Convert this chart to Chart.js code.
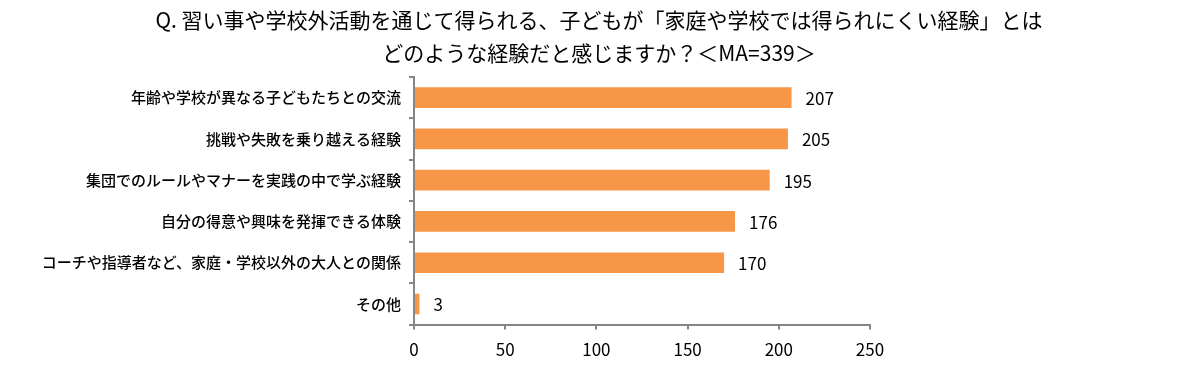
<!DOCTYPE html>
<html lang="ja">
<head>
  <meta charset="UTF-8" />
  <title>習い事や学校外活動の経験</title>
  <script src="https://cdn.jsdelivr.net/npm/chart.js"></script>
  <style>
    html, body {
      margin: 0;
      padding: 0;
      background: #ffffff;
    }
    #wrap {
      width: 1182px;
      height: 372px;
    }
  </style>
</head>
<body>
  <div id="wrap"><canvas id="chart"></canvas></div>

  <script>
    const titleLines = [
      'Q. 習い事や学校外活動を通じて得られる、子どもが「家庭や学校では得られにくい経験」とは',
      'どのような経験だと感じますか？＜MA=339＞'
    ];
    const categories = [
      '年齢や学校が異なる子どもたちとの交流',
      '挑戦や失敗を乗り越える経験',
      '集団でのルールやマナーを実践の中で学ぶ経験',
      '自分の得意や興味を発揮できる体験',
      'コーチや指導者など、家庭・学校以外の大人との関係',
      'その他'
    ];
    const counts = [207, 205, 195, 176, 170, 3];
    const xTicks = [0, 50, 100, 150, 200, 250];

    const fontFamily = '"Noto Sans CJK JP", "Noto Sans", sans-serif';

    // title centred on the whole canvas, not on the plot area
    const pageTitle = {
      id: 'pageTitle',
      afterDraw(chart) {
        const ctx = chart.ctx;
        ctx.save();
        ctx.fillStyle = '#000';
        ctx.font = '21px ' + fontFamily;
        ctx.textAlign = 'center';
        ctx.textBaseline = 'middle';
        const cx = chart.width / 2 + 8;
        ctx.fillText(titleLines[0], cx, 20);
        ctx.fillText(titleLines[1], cx, 53);
        ctx.restore();
      }
    };

    // value labels to the right of each bar
    const valueLabels = {
      id: 'valueLabels',
      afterDatasetsDraw(chart) {
        const ctx = chart.ctx;
        const meta = chart.getDatasetMeta(0);
        ctx.save();
        ctx.fillStyle = '#000';
        ctx.font = '17px ' + fontFamily;
        ctx.textAlign = 'left';
        ctx.textBaseline = 'middle';
        meta.data.forEach((bar, i) => {
          ctx.fillText(String(counts[i]), bar.x + 14, bar.y + 1);
        });
        ctx.restore();
      }
    };

    new Chart(document.getElementById('chart'), {
      type: 'bar',
      data: {
        labels: categories,
        datasets: [{
          data: counts,
          backgroundColor: '#F79646',
          borderWidth: 0,
          barPercentage: 0.5,
          categoryPercentage: 1.0
        }]
      },
      plugins: [valueLabels, pageTitle],
      options: {
        indexAxis: 'y',
        responsive: true,
        maintainAspectRatio: false,
        animation: false,
        layout: { padding: { left: 0, right: 312, top: 77, bottom: 2 } },
        plugins: {
          legend: { display: false },
          tooltip: { enabled: false },
          title: { display: false }
        },
        scales: {
          x: {
            min: 0,
            max: 250,
            afterBuildTicks(axis) {
              axis.ticks = xTicks.map(v => ({ value: v }));
            },
            border: { color: '#868686', width: 2 },
            grid: { drawOnChartArea: false, color: '#868686', tickLength: 5, lineWidth: 2 },
            ticks: {
              color: '#000',
              padding: 10,
              font: { family: fontFamily, size: 17 }
            }
          },
          y: {
            afterFit(axis) { axis.width = 414; },
            border: { color: '#868686', width: 2 },
            grid: { drawOnChartArea: false, color: '#868686', tickLength: 5, lineWidth: 2 },
            ticks: {
              color: '#000',
              padding: 8,
              font: { family: fontFamily, size: 15, weight: '500' }
            }
          }
        }
      }
    });
  </script>
</body>
</html>
